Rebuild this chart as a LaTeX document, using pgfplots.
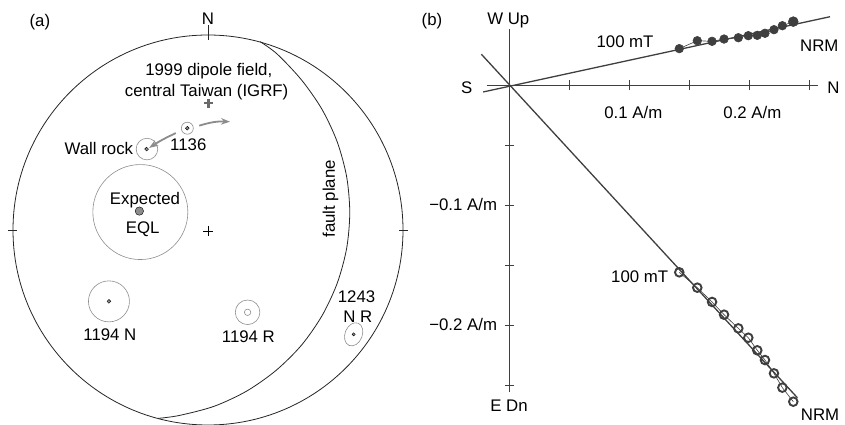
\documentclass[border=0pt]{standalone}
\usepackage{pgfplots}
\pgfplotsset{compat=1.18}
\usepackage{pgfplotstable}
\usepackage{fontspec}
\setmainfont{Liberation Sans}
\usetikzlibrary{arrows.meta}
\definecolor{dotg}{HTML}{8C8C8C}
\definecolor{ringg}{HTML}{8E8E8E}
\definecolor{zline}{HTML}{3F3F3F}
\definecolor{igrf}{HTML}{6A6A6A}

% Zijderveld data: N component (x), horizontal W (h), vertical Up (v), A/m
\pgfplotstableread{
x      h       v
0.1419 0.0303 -0.1561
0.1569 0.0369 -0.1689
0.1692 0.0364 -0.1808
0.1792 0.0383 -0.1914
0.1911 0.0394 -0.2028
0.1994 0.0411 -0.2106
0.2069 0.0414 -0.2211
0.2133 0.0431 -0.2292
0.2208 0.0461 -0.2403
0.2278 0.0494 -0.2522
0.2369 0.0528 -0.2639
}\zdata

\begin{document}
\fontsize{16.8bp}{19bp}\selectfont
\begin{tikzpicture}
% ---------------- panel (a): stereonet ----------------
\begin{axis}[at={(-6.5bp,-19.5bp)}, anchor=south west, scale only axis,
  width=429bp, height=429bp, xmin=-1.1, xmax=1.1, ymin=-1.1, ymax=1.1,
  axis lines=none, clip=false]
\draw[line width=0.8bp, black!85] (axis cs:0,0) circle[radius=195bp];
\draw[line width=0.8bp, black!85] (axis cs:0,0.975) -- (axis cs:0,1.05);
\draw[line width=0.8bp, black!85] (axis cs:-1.025,0) -- (axis cs:-0.98,0);
\draw[line width=0.8bp, black!85] (axis cs:1.025,0) -- (axis cs:0.98,0);
% fault plane great circle
\addplot[smooth, line width=0.8bp, black!85] coordinates {
(0.267,0.966) (0.355,0.902) (0.480,0.769) (0.585,0.618) (0.663,0.451)
(0.711,0.273) (0.727,0.0895) (0.711,-0.094) (0.663,-0.272) (0.585,-0.439)
(0.480,-0.590) (0.349,-0.720) (0.1985,-0.826) (0.0315,-0.904) (-0.1465,-0.951)
(-0.255,-0.966)};
% centre cross
\addplot[only marks, mark=+, mark size=5bp, mark options={line width=0.6bp, black}] coordinates {(0,-0.005)};
% IGRF dipole field
\addplot[only marks, mark=+, mark size=4.3bp, mark options={line width=2.4bp, igrf}] coordinates {(0.002,0.65)};
% alpha95 circles
\addplot[only marks, mark=o, mark size=47.5bp, mark options={line width=0.6bp, ringg}] coordinates {(-0.347,0.092)};
\addplot[only marks, mark=o, mark size=10.8bp, mark options={line width=0.6bp, ringg}] coordinates {(-0.313,0.415)};
\addplot[only marks, mark=o, mark size=6bp, mark options={line width=0.6bp, ringg}] coordinates {(-0.106,0.522)};
\addplot[only marks, mark=o, mark size=20.5bp, mark options={line width=0.6bp, ringg}] coordinates {(-0.508,-0.366)};
\addplot[only marks, mark=o, mark size=12.3bp, mark options={line width=0.6bp, ringg}] coordinates {(0.203,-0.422)};
\addplot[only marks, mark=o, mark size=12bp, mark options={line width=0.6bp, ringg, rotate=-22, xscale=0.72}] coordinates {(0.747,-0.535)};
% mean directions
\addplot[only marks, mark=*, mark size=4.2bp, mark options={draw=none, fill=dotg}] coordinates {(-0.352,0.097)};
\addplot[only marks, mark=*, mark size=1.9bp, mark options={draw=none, fill=dotg}] coordinates {(-0.315,0.415) (-0.106,0.522) (-0.508,-0.366)};
\addplot[only marks, mark=*, mark size=1.6bp, mark options={draw=none, fill=dotg}] coordinates {(0.747,-0.535)};
\addplot[only marks, mark=o, mark size=3.2bp, mark options={line width=0.6bp, ringg}] coordinates {(0.203,-0.422)};
% arrows
\draw[dotg, line width=1.8bp, -{Stealth[length=9bp,width=6.5bp]}] (axis cs:-0.165,0.497) to[bend right=4] (axis cs:-0.302,0.421);
\draw[dotg, line width=1.8bp, -{Stealth[length=9bp,width=6.5bp]}] (axis cs:-0.045,0.535) to[bend left=10] (axis cs:0.113,0.555);
% labels
\node[anchor=base, inner sep=0pt] at (axis cs:-0.862,1.046) {(a)};
\node[anchor=base, inner sep=0pt] at (axis cs:0,1.055) {N};
\node[anchor=base, inner sep=0pt] at (axis cs:0.004,0.790) {1999 dipole field,};
\node[anchor=base, inner sep=0pt] at (axis cs:-0.007,0.684) {central Taiwan (IGRF)};
\node[anchor=base east, inner sep=0pt] at (axis cs:-0.383,0.385) {Wall rock};
\node[anchor=base, inner sep=0pt] at (axis cs:-0.101,0.407) {1136};
\node[anchor=base, inner sep=0pt] at (axis cs:-0.323,0.133) {Expected};
\node[anchor=base, inner sep=0pt] at (axis cs:-0.335,-0.017) {EQL};
\node[anchor=base, inner sep=0pt] at (axis cs:-0.503,-0.568) {1194 N};
\node[anchor=base, inner sep=0pt] at (axis cs:0.207,-0.578) {1194 R};
\node[anchor=base, inner sep=0pt] at (axis cs:0.762,-0.371) {1243};
\node[anchor=base, inner sep=0pt] at (axis cs:0.768,-0.473) {N R};
\node[rotate=90, inner sep=0pt] at (axis cs:0.628,0.160) {fault plane};
\end{axis}

% ---------------- panel (b): Zijderveld ----------------
\begin{axis}[at={(437bp,4bp)}, anchor=south west, scale only axis,
  width=408bp, height=408bp, xmin=-0.06, xmax=0.28, ymin=-0.28, ymax=0.06,
  axis lines=none, clip=false]
\draw[line width=0.8bp, zline] (axis cs:-0.0186,0) -- (axis cs:0.2578,0);
\draw[line width=0.8bp, zline] (axis cs:0,0.0464) -- (axis cs:0,-0.2556);
\pgfplotsinvokeforeach{0.05,0.1,0.15,0.2,0.25}{
  \draw[line width=0.8bp, zline] (axis cs:#1,-0.0042) -- (axis cs:#1,0.0042);
  \draw[line width=0.8bp, zline] (axis cs:-0.0035,-#1) -- (axis cs:0.0045,-#1);
}
% fitted lines
\addplot[line width=1.3bp, zline] coordinates {(-0.0215,-0.0058) (0.2675,0.0569)};
\addplot[line width=1.3bp, zline] coordinates {(-0.0230,0.0256) (0.2403,-0.2606)};
% data
\addplot[line width=0.6bp, zline, mark=*, mark size=4.3bp, mark options={fill=zline, draw=zline}] table[x=x, y=h] {\zdata};
\addplot[only marks, mark=*, mark size=5bp, mark options={fill=zline, draw=zline}] coordinates {(0.2369,0.0528)};
\addplot[line width=0.6bp, zline, mark=o, mark size=4.3bp, mark options={line width=1.9bp, fill=white, draw=zline}] table[x=x, y=v] {\zdata};
% labels
\node[anchor=base, inner sep=0pt] at (axis cs:-0.0642,0.0492) {(b)};
\node[anchor=base, inner sep=0pt] at (axis cs:-0.0006,0.050) {W Up};
\node[anchor=base, inner sep=0pt] at (axis cs:-0.0353,-0.0075) {S};
\node[anchor=base, inner sep=0pt] at (axis cs:0.2703,-0.0069) {N};
\node[anchor=base, inner sep=0pt] at (axis cs:0.1036,-0.0278) {0.1 A/m};
\node[anchor=base, inner sep=0pt] at (axis cs:0.2028,-0.0278) {0.2 A/m};
\node[anchor=base east, inner sep=0pt] at (axis cs:-0.0098,-0.1047) {−0.1 A/m};
\node[anchor=base east, inner sep=0pt] at (axis cs:-0.0098,-0.2047) {−0.2 A/m};
\node[anchor=base, inner sep=0pt] at (axis cs:0,-0.2717) {E Dn};
\node[anchor=base, inner sep=0pt] at (axis cs:0.0967,0.0314) {100 mT};
\node[anchor=base, inner sep=0pt] at (axis cs:0.2586,0.0278) {NRM};
\node[anchor=base east, inner sep=0pt] at (axis cs:0.1328,-0.1647) {100 mT};
\node[anchor=base, inner sep=0pt] at (axis cs:0.2592,-0.2792) {NRM};
\end{axis}
\pgfresetboundingbox
\useasboundingbox (0,0) rectangle (845bp,425bp);
\end{tikzpicture}
\end{document}
